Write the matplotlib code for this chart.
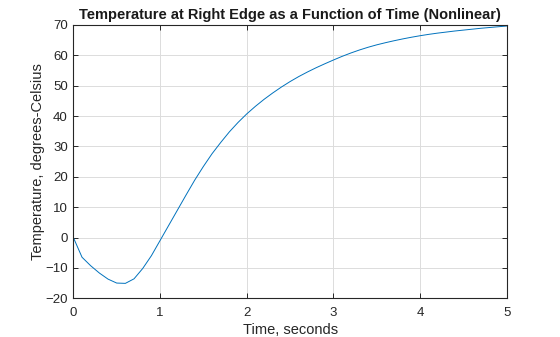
import numpy as np
import matplotlib
matplotlib.use('Agg')
import matplotlib.pyplot as plt

time_s = [0.0, 0.1, 0.2, 0.3, 0.4, 0.5, 0.6, 0.7, 0.8, 0.9,
          1.0, 1.1, 1.2, 1.3, 1.4, 1.5, 1.6, 1.7, 1.8, 1.9,
          2.0, 2.1, 2.2, 2.3, 2.4, 2.5, 2.6, 2.7, 2.8, 2.9,
          3.0, 3.1, 3.2, 3.3, 3.4, 3.5, 3.6, 3.7, 3.8, 3.9,
          4.0, 4.1, 4.2, 4.3, 4.4, 4.5, 4.6, 4.7, 4.8, 4.9, 5.0]
temp_c = [0.0, -6.5, -9.3, -11.7, -13.7, -15.0, -15.1, -13.6, -10.2, -6.0,
          -1.0, 4.0, 9.0, 14.0, 18.9, 23.4, 27.6, 31.3, 34.8, 37.9,
          40.7, 43.2, 45.5, 47.6, 49.55, 51.35, 53.0, 54.5, 55.9, 57.2,
          58.45, 59.65, 60.75, 61.75, 62.65, 63.45, 64.15, 64.8, 65.4, 65.95,
          66.45, 66.9, 67.3, 67.65, 68.0, 68.3, 68.6, 68.9, 69.15, 69.4, 69.65]

plt.rcParams['font.family'] = ['Liberation Sans', 'DejaVu Sans']

fig = plt.figure(figsize=(5.6, 3.37), dpi=100)
ax = fig.add_axes([0.131, 0.115, 0.774, 0.811])

ax.plot(time_s, temp_c, color='#0072BD', linewidth=0.7)

ax.set_xlim(0, 5)
ax.set_ylim(-20, 70)
ax.set_xticks(np.arange(0, 6, 1))
ax.set_yticks(np.arange(-20, 80, 10))
ax.grid(True, color='#dcdcdc', linewidth=0.7)
ax.set_axisbelow(True)

ax.tick_params(direction='in', length=3.5, width=0.7, top=True, right=True,
               labelsize=9.5, colors='#262626')
ax.tick_params(axis='x', pad=6.5)
ax.tick_params(axis='y', pad=4)
for s in ax.spines.values():
    s.set_linewidth(0.8)
    s.set_color('#262626')

ax.set_title('Temperature at Right Edge as a Function of Time (Nonlinear)',
             fontsize=10.5, fontweight='bold', color='#1a1a1a', pad=4.5)
ax.set_xlabel('Time, seconds', fontsize=10.5, color='#262626', labelpad=2.5)
ax.set_ylabel('Temperature, degrees-Celsius', fontsize=10.5, color='#262626', labelpad=0)

fig.savefig('out.png', dpi=100)
